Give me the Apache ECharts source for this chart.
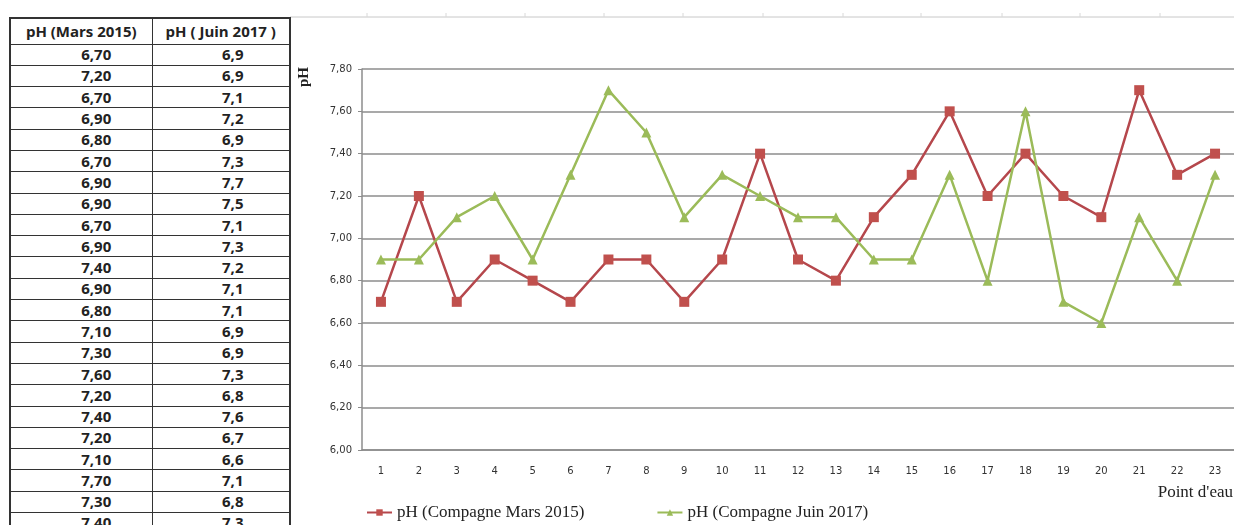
<!DOCTYPE html>
<html>
<head>
<meta charset="utf-8">
<title>pH des points d'eau</title>
<script src="https://cdn.jsdelivr.net/npm/echarts@6/dist/echarts.min.js"></script>
<style>
  html, body { margin: 0; padding: 0; background: #fff; overflow: hidden; }
  #chart { position: absolute; left: 0; top: 0; width: 1234px; height: 525px; }
  #tbl {
    position: absolute; left: 9px; top: 17px; z-index: 2;
    border-collapse: collapse; table-layout: fixed;
    font-family: "Open Sans", "Noto Sans", sans-serif;
    font-weight: bold; font-size: 15px; color: #222; background: #fff;
    border: 2px solid #333;
  }
  #tbl th, #tbl td {
    border: 1.5px solid #333; padding: 0; text-align: center; line-height: 1;
    box-sizing: border-box; overflow: hidden; white-space: nowrap;
  }
  #tbl thead tr { height: 26px; }
  #tbl tbody tr { height: 21.3px; }
  #tbl td.a { padding-left: 30px; }
  #tbl td.b { padding-left: 24px; }
  #tbl col.a { width: 142px; }
  #tbl col.b { width: 138px; }
</style>
</head>
<body>
<div id="chart"></div>
<table id="tbl">
  <colgroup><col class="a"><col class="b"></colgroup>
  <thead></thead>
  <tbody></tbody>
</table>
<script>
// Sampling points (Point d'eau 1..23)
const points = ['1','2','3','4','5','6','7','8','9','10','11','12','13','14','15','16','17','18','19','20','21','22','23'];
// pH measured in March 2015
const phMars2015 = [6.70, 7.20, 6.70, 6.90, 6.80, 6.70, 6.90, 6.90, 6.70, 6.90, 7.40, 6.90, 6.80, 7.10, 7.30, 7.60, 7.20, 7.40, 7.20, 7.10, 7.70, 7.30, 7.40];
// pH measured in June 2017
const phJuin2017 = [6.9, 6.9, 7.1, 7.2, 6.9, 7.3, 7.7, 7.5, 7.1, 7.3, 7.2, 7.1, 7.1, 6.9, 6.9, 7.3, 6.8, 7.6, 6.7, 6.6, 7.1, 6.8, 7.3];
// Table headers and series names
const tableHeaders = ['pH (Mars 2015)', 'pH ( Juin 2017 )'];
const seriesNames = ['pH (Compagne Mars 2015)', 'pH (Compagne Juin 2017)'];

// Data table on the left
const thead = document.querySelector('#tbl thead');
const tbody = document.querySelector('#tbl tbody');
thead.innerHTML = '<tr>' + tableHeaders.map(h => '<th>' + h + '</th>').join('') + '</tr>';
tbody.innerHTML = phMars2015.map((v, i) =>
  '<tr><td class="a">' + v.toFixed(2).replace('.', ',') + '</td><td class="b">' +
  phJuin2017[i].toFixed(1).replace('.', ',') + '</td></tr>').join('');

const chart = echarts.init(document.getElementById('chart'), null, { renderer: 'canvas' });
const serif = '"Liberation Serif", "Times New Roman", serif';
const small = '"DejaVu Sans", Verdana, sans-serif';

// Faint sheet column borders along the top
const sheetCols = [367, 446, 525, 604, 683, 763, 843, 921, 1002, 1080, 1160];
const graphics = [
  { type: 'line', shape: { x1: 290, y1: 17, x2: 1234, y2: 17 }, style: { stroke: '#c8c8c8', lineWidth: 1 }, silent: true }
].concat(sheetCols.map(x => ({
  type: 'line', shape: { x1: x, y1: 13, x2: x, y2: 17 }, style: { stroke: '#d8d8d8', lineWidth: 1 }, silent: true
}))).concat([
  { type: 'text', x: 297, y: 87, rotation: Math.PI / 2,
    style: { text: 'pH', font: 'bold 15px ' + serif, fill: '#222', textAlign: 'left', textVerticalAlign: 'top' } },
  { type: 'text', x: 1233, y: 484,
    style: { text: "Point d'eau", font: '17px ' + serif, fill: '#222', textAlign: 'right', textVerticalAlign: 'top' } }
]);

chart.setOption({
  animation: false,
  grid: { left: 362, top: 69, width: 884, height: 381, containLabel: false },
  legend: {
    left: 361, top: 499, itemWidth: 25, itemHeight: 8, itemGap: 72,
    textStyle: { fontFamily: serif, fontSize: 17, color: '#222' },
    data: seriesNames
  },
  xAxis: {
    type: 'category', data: points, boundaryGap: true,
    axisLine: { lineStyle: { color: '#8c8c8c', width: 1.5 } },
    axisTick: { show: false },
    axisLabel: { fontFamily: small, fontSize: 10, color: '#333', margin: 16, interval: 0 }
  },
  yAxis: {
    type: 'value', min: 6, max: 7.8, interval: 0.2,
    axisLine: { show: true, lineStyle: { color: '#8c8c8c', width: 1.5 } },
    axisTick: { show: true, length: 4, lineStyle: { color: '#8c8c8c' } },
    splitLine: { lineStyle: { color: '#8c8c8c', width: 1.5 } },
    axisLabel: {
      fontFamily: small, fontSize: 10, color: '#333', margin: 10,
      formatter: v => v.toFixed(2).replace('.', ',')
    }
  },
  series: [
    {
      name: seriesNames[0], type: 'line', data: phMars2015,
      symbol: 'rect', symbolSize: 10,
      lineStyle: { color: '#b5474c', width: 2.5 },
      itemStyle: { color: '#c0504d' }
    },
    {
      name: seriesNames[1], type: 'line', data: phJuin2017,
      symbol: 'triangle', symbolSize: 10,
      lineStyle: { color: '#9bbb59', width: 2.5 },
      itemStyle: { color: '#9bbb59' }
    }
  ],
  graphic: graphics
});
</script>
</body>
</html>
